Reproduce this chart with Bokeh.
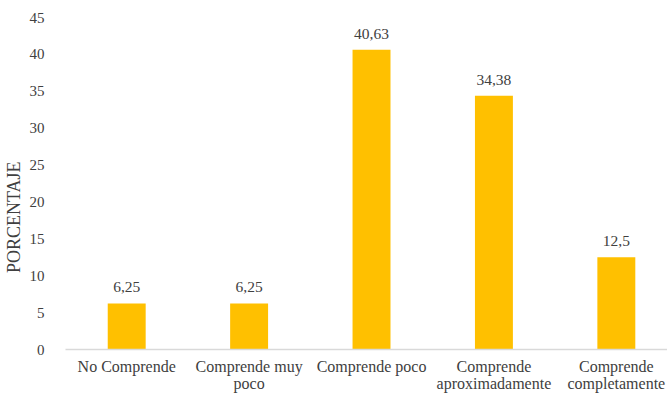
from bokeh.plotting import figure
from bokeh.models import ColumnDataSource, FixedTicker, Range1d, LabelSet
from bokeh.embed import file_html
from bokeh.resources import INLINE

# Survey results: share of respondents per comprehension level
categories = ["No Comprende", "Comprende muy\npoco", "Comprende poco",
              "Comprende\naproximadamente", "Comprende\ncompletamente"]
values = [6.25, 6.25, 40.63, 34.38, 12.5]
value_labels = ["6,25", "6,25", "40,63", "34,38", "12,5"]
y_ticks = [0, 5, 10, 15, 20, 25, 30, 35, 40, 45]
y_title = "PORCENTAJE"

FONT = "'Liberation Serif', 'Times New Roman', serif"
TEXT = "#404040"
positions = list(range(len(categories)))

source = ColumnDataSource(dict(x=positions, top=values, label=value_labels))

p = figure(width=667, height=394, output_backend="svg", toolbar_location=None,
           x_range=Range1d(-0.5, 4.418), y_range=Range1d(0, 45))
p.min_border_left = 64
p.min_border_right = 0
p.min_border_top = 17
p.min_border_bottom = 40
p.outline_line_color = None
p.background_fill_color = "white"
p.border_fill_color = "white"

p.vbar(x="x", top="top", width=0.31, source=source,
       fill_color="#FFC000", line_color=None)

labels = LabelSet(x="x", y="top", text="label", source=source,
                  text_align="center", text_baseline="bottom",
                  y_offset=11, text_font=FONT, text_font_size="15.5px",
                  text_color=TEXT)
p.add_layout(labels)

p.xgrid.grid_line_color = None
p.ygrid.grid_line_color = None

# x axis: category names under each bar
xa = p.xaxis[0]
xa.ticker = FixedTicker(ticks=positions)
xa.major_label_overrides = {i: c for i, c in enumerate(categories)}
xa.axis_line_color = "#D9D9D9"
xa.axis_line_width = 1.5
xa.major_tick_line_color = None
xa.minor_tick_line_color = None
xa.major_label_text_font = FONT
xa.major_label_text_font_size = "16px"
xa.major_label_text_color = TEXT
xa.major_label_text_line_height = 1.0
xa.major_label_standoff = 2

# y axis: percentage scale
ya = p.yaxis[0]
ya.ticker = FixedTicker(ticks=y_ticks)
ya.axis_line_color = None
ya.major_tick_line_color = None
ya.minor_tick_line_color = None
ya.major_label_text_font = FONT
ya.major_label_text_font_size = "15px"
ya.major_label_text_color = TEXT
ya.major_label_standoff = 15

# axis title sits a bit below the frame's middle: pad its upper end
ya.axis_label = y_title + "\u00a0" * 15
ya.axis_label_text_font = FONT
ya.axis_label_text_font_size = "18px"
ya.axis_label_text_font_style = "normal"
ya.axis_label_text_color = TEXT
ya.axis_label_standoff = 3

open("out.html", "w").write(file_html(p, INLINE))
